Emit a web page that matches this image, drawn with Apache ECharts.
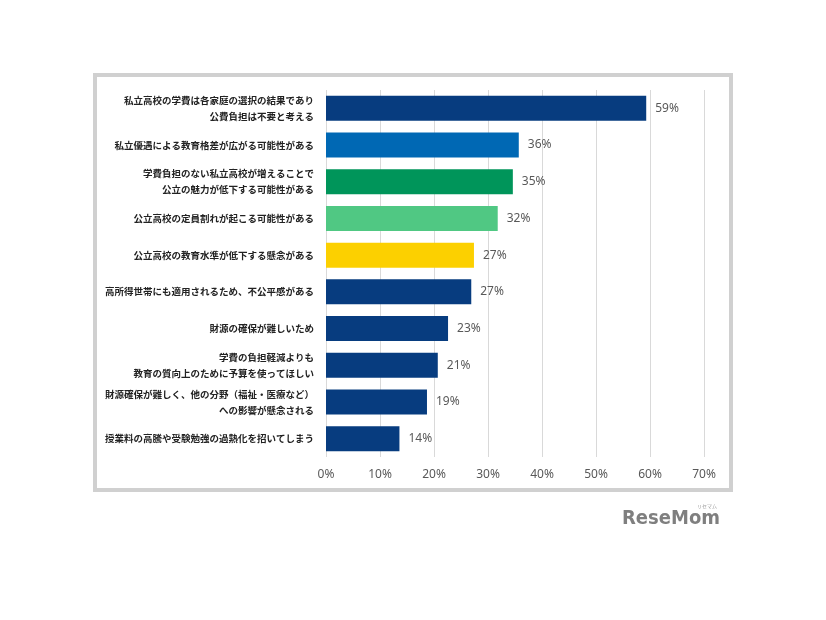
<!DOCTYPE html>
<html><head><meta charset="utf-8">
<script src="https://cdn.jsdelivr.net/npm/echarts@6/dist/echarts.min.js"></script>
<style>html,body{margin:0;padding:0;background:#fff;}#c{width:826px;height:620px;}</style>
</head><body><div id="c"></div>
<script>
const categories = [
  '私立高校の学費は各家庭の選択の結果であり\n公費負担は不要と考える',
  '私立優遇による教育格差が広がる可能性がある',
  '学費負担のない私立高校が増えることで\n公立の魅力が低下する可能性がある',
  '公立高校の定員割れが起こる可能性がある',
  '公立高校の教育水準が低下する懸念がある',
  '高所得世帯にも適用されるため、不公平感がある',
  '財源の確保が難しいため',
  '学費の負担軽減よりも\n教育の質向上のために予算を使ってほしい',
  '財源確保が難しく、他の分野（福祉・医療など）\nへの影響が懸念される',
  '授業料の高騰や受験勉強の過熱化を招いてしまう'
];
const values = [59.3, 35.7, 34.6, 31.8, 27.4, 26.9, 22.6, 20.7, 18.7, 13.6];
const barColors = ['#073c7f', '#0068b4', '#00955a', '#50c883', '#fcd000', '#073c7f', '#073c7f', '#073c7f', '#073c7f', '#073c7f'];
const xTicks = [0, 10, 20, 30, 40, 50, 60, 70];

const chart = echarts.init(document.getElementById('c'), null, {renderer: 'canvas'});
chart.setOption({
  backgroundColor: '#fff',
  animation: false,
  graphic: [
    {type: 'rect', shape: {x: 95, y: 75, width: 636, height: 415}, style: {fill: 'none', stroke: '#d0d0d0', lineWidth: 4}},
    {type: 'text', left: 622, top: 509, style: {text: 'ReseMom', font: 'bold 20px "DejaVu Sans Condensed", "Liberation Sans", sans-serif', fill: '#7f7f7f'}},
    {type: 'text', left: 697, top: 504, style: {text: 'リセマム', font: '5px "Noto Sans CJK JP"', fill: '#999'}}
  ],
  grid: {left: 326, right: 122, top: 90, bottom: 163, containLabel: false},
  xAxis: {
    type: 'value', min: 0, max: 70, interval: 10,
    axisLine: {show: false}, axisTick: {show: false},
    splitLine: {show: true, lineStyle: {color: '#d9d9d9', width: 1}},
    axisLabel: {formatter: v => xTicks.includes(v) ? v + '%' : '', color: '#595959', fontSize: 12, margin: 12, fontFamily: '"Noto Sans", sans-serif'}
  },
  yAxis: {
    type: 'category', data: categories, inverse: true,
    axisLine: {show: false}, axisTick: {show: false},
    axisLabel: {color: '#222', fontSize: 9.5, lineHeight: 16, margin: 12, align: 'right', fontWeight: 'bold',
      fontFamily: '"Noto Sans CJK JP", sans-serif'}
  },
  series: [{
    type: 'bar', barCategoryGap: '32%',
    data: values.map((v, i) => ({value: v, itemStyle: {color: barColors[i]}})),
    label: {show: true, position: 'right', distance: 9, color: '#595959', fontSize: 12,
      fontFamily: '"Noto Sans", sans-serif', formatter: p => Math.round(p.value) + '%'}
  }]
});
</script></body></html>
